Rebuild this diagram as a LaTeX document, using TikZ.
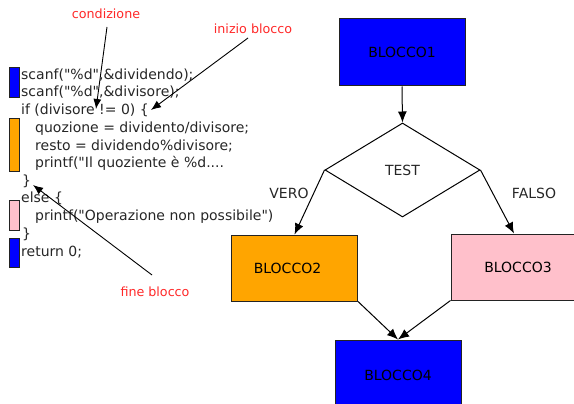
\documentclass[tikz,border=0pt]{standalone}
\usepackage{fontspec}
\setmainfont{DejaVu Sans}
\usetikzlibrary{shapes.geometric,arrows.meta}
\definecolor{labred}{RGB}{255,40,40}
\definecolor{bblue}{RGB}{0,0,255}
\definecolor{borange}{RGB}{255,165,0}
\definecolor{bpink}{RGB}{255,192,203}
\definecolor{edge}{RGB}{35,35,35}
\newcommand\qq{\textquotedbl}
\tikzset{
  blockbox/.style={draw=edge, line width=1pt, minimum width=126pt, minimum height=66pt, inner sep=0pt, font=\fontsize{14}{16}\selectfont},
  bar/.style={draw=edge, line width=0.9pt, minimum width=10pt, inner sep=0pt, anchor=north west},
  code/.style={anchor=base west, inner sep=0pt, font=\fontsize{14}{16}\selectfont, text=black!85},
  note/.style={anchor=base, inner sep=0pt, font=\fontsize{12.7}{14}\selectfont, text=labred},
  lbl/.style={anchor=base, inner sep=0pt, font=\fontsize{14}{16}\selectfont, text=black!85},
  conn/.style={draw=black, line width=1pt, -{Latex[length=11pt,width=9pt]}},
  pointer/.style={draw=black, line width=0.9pt, -{Latex[length=10pt,width=8pt]}}
}
\begin{document}
\begin{tikzpicture}[x=1pt,y=-1pt]
\useasboundingbox (0,0) rectangle (574,404);
\clip (0,0) rectangle (574,404);
% flowchart
\node[blockbox, fill=bblue, minimum height=67pt] (b1) at (402,52.5) {BLOCCO1};
\node[diamond, draw=black, line width=1pt, minimum width=155pt, minimum height=94pt, inner sep=0pt, font=\fontsize{14}{16}\selectfont, text=black!85] (d) at (402.5,170) {TEST};
\node[blockbox, fill=borange] (b2) at (294.5,268) {\hspace*{-14pt}BLOCCO2};
\node[blockbox, fill=bpink] (b3) at (514,267) {\hspace*{8pt}BLOCCO3};
\node[blockbox, fill=bblue, minimum height=70pt] (b4) at (398,375) {BLOCCO4};
\node[lbl] (vero) at (289,198) {VERO};
\node[lbl] (falso) at (534,198) {FALSO};
\draw[conn] (b1.south) -- (d.north);
\draw[conn] (d.west) -- (b2.north);
\draw[conn] (d.east) -- (b3.north);
\draw[conn] (b2.south east) -- (b4.north);
\draw[conn] (b3.south west) -- (b4.north);
% color bars
\node[bar, fill=bblue, minimum height=30pt] (m1) at (9,67) {};
\node[bar, fill=borange, minimum height=53pt] (m2) at (9,118) {};
\node[bar, fill=bpink, minimum height=30pt] (m3) at (9,200) {};
\node[bar, fill=bblue, minimum height=29pt] (m4) at (9,238) {};
% code
\node[code] (c1) at (21,79.3) {scanf(\qq\%d\qq,\&dividendo);};
\node[code] (c2) at (21,97) {scanf(\qq\%d\qq,\&divisore);};
\node[code] (c3) at (21,114.5) {if (divisore != 0) \{};
\node[code] (c4) at (35,132.2) {quozione = dividento/divisore;};
\node[code] (c5) at (35,150) {resto = dividendo\%divisore;};
\node[code] (c6) at (35,167.6) {printf(\qq Il quoziente è \%d....};
\node[code] (c7) at (22,185.3) {\}};
\node[code] (c8) at (21,203) {else \{};
\node[code] (c9) at (35,220.7) {printf(\qq Operazione non possibile\qq)};
\node[code] (c10) at (22,238.4) {\}};
\node[code] (c11) at (21,256) {return 0;};
% notes
\node[note] (n1) at (106,19) {condizione};
\node[note] (n2) at (253,34) {inizio blocco};
\node[note] (n3) at (155,296) {fine blocco};
\coordinate (t1) at (96,109);
\coordinate (t2) at (151,110);
\coordinate (t3) at (33,185);
\draw[pointer] (107,27) -- (t1);
\draw[pointer] (248,38) -- (t2);
\draw[pointer] (152,275) -- (t3);
\end{tikzpicture}
\end{document}
